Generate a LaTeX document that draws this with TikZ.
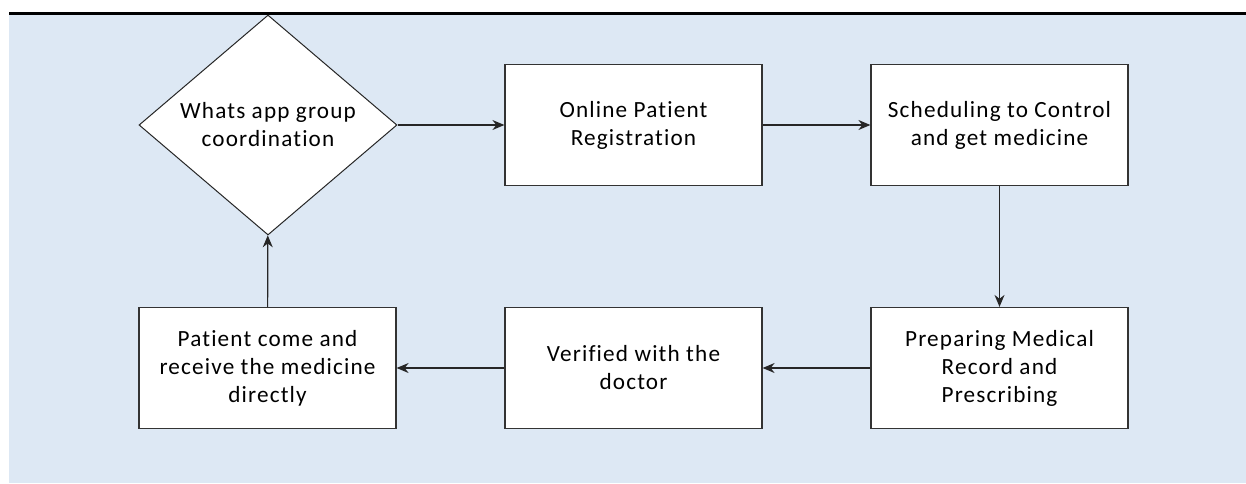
\documentclass[tikz,border=0pt]{standalone}
\usepackage{fontspec}
\setmainfont[LetterSpace=5,Ligatures=NoCommon]{Carlito}
\usetikzlibrary{shapes.geometric,arrows.meta}
\definecolor{bgblue}{RGB}{221,232,244}
\tikzset{
  stepbox/.style={draw=black!80,line width=0.6pt,fill=white,minimum width=128.5pt,minimum height=60.5pt,
    align=center,inner sep=0pt,font=\fontsize{11.6}{14}\selectfont},
  choice/.style={diamond,draw=black!85,line width=0.5pt,fill=white,minimum width=129pt,minimum height=103pt,
    align=center,inner sep=0pt,font=\fontsize{11.6}{14}\selectfont},
  flow/.style={-{Stealth[length=6pt,width=5pt]},line width=0.6pt,black!85}
}
\begin{document}
\begin{tikzpicture}[x=0.5pt,y=-0.5pt]
    \useasboundingbox (0,0) rectangle (1246,483);
    \fill[bgblue] (9,14) rectangle (1246,483);
    \draw[line width=1.5pt] (9,13)--(1246,13);
    \node[choice] (whatsapp) at (268,125) {Whats app group\\coordination};
    \node[stepbox] (online) at (633.5,125) {Online Patient\\Registration};
    \node[stepbox] (schedule) at (999.5,125) {Scheduling to Control\\and get medicine};
    \node[stepbox] (prepare) at (999.5,368) {Preparing Medical\\Record and\\Prescribing};
    \node[stepbox] (verify) at (633.5,368) {Verified with the\\doctor};
    \node[stepbox] (receive) at (267.5,368) {Patient come and\\receive the medicine\\directly};
    \draw[flow] (whatsapp)--(online);
    \draw[flow] (online)--(schedule);
    \draw[flow] (schedule)--(prepare);
    \draw[flow] (prepare)--(verify);
    \draw[flow] (verify)--(receive);
    \draw[flow] (receive)--(whatsapp);
  \end{tikzpicture}
\end{document}
